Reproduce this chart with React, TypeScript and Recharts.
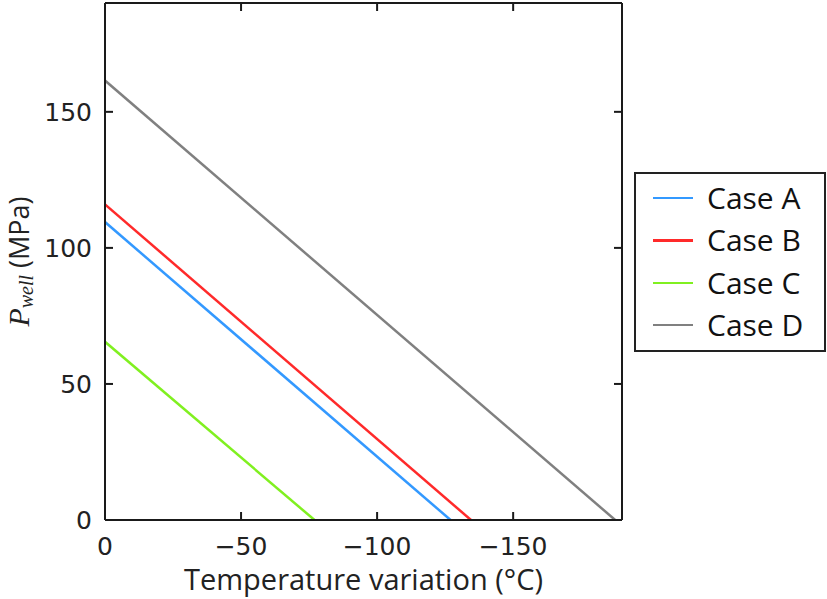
import React from 'react';
import { LineChart, Line, XAxis, YAxis } from 'recharts';

// reference values (x = temperature variation, y = P_well)
const caseNames = ['Case A', 'Case B', 'Case C', 'Case D'];
const caseColors = ['#3399ff', '#ff2a2a', '#80f020', '#808080'];
const caseA = [{ t: 0, p: 109.5 }, { t: -127, p: 0 }];
const caseB = [{ t: 0, p: 116 }, { t: -134.5, p: 0 }];
const caseC = [{ t: 0, p: 65.5 }, { t: -77, p: 0 }];
const caseD = [{ t: 0, p: 161.5 }, { t: -187.5, p: 0 }];
const caseData = [caseA, caseB, caseC, caseD];

const xTicks = [0, -50, -100, -150];
const yTicks = [0, 50, 100, 150];

const FRAME = '#1a1a1a';
const TICK_LEN = 8;
const NUM_FONT = '"DejaVu Sans", sans-serif';
const LABEL_FONT = '"Open Sans", sans-serif';

const fmt = (v: number) => (v < 0 ? '\u2212' + Math.abs(v) : String(v));

const BottomTick = (props: any) => {
  const { x, y, payload } = props;
  const axisY = y - 17;
  return (
    <g>
      <line x1={x} x2={x} y1={axisY} y2={axisY - TICK_LEN} stroke={FRAME} strokeWidth={2} />
      <text x={x} y={y} dy="0.71em" textAnchor="middle" fontFamily={NUM_FONT} fontSize={25} fill="#222">
        {fmt(payload.value)}
      </text>
    </g>
  );
};

const LeftTick = (props: any) => {
  const { x, y, payload } = props;
  const axisX = x + 13;
  return (
    <g>
      <line x1={axisX} x2={axisX + TICK_LEN} y1={y} y2={y} stroke={FRAME} strokeWidth={2} />
      <text x={x} y={y} dy="0.36em" textAnchor="end" fontFamily={NUM_FONT} fontSize={25} fill="#222">
        {fmt(payload.value)}
      </text>
    </g>
  );
};

const TopTick = (props: any) => {
  const { x, payload } = props;
  const y = 3;
  return <line key={payload.value} x1={x} x2={x} y1={y} y2={y + TICK_LEN} stroke={FRAME} strokeWidth={2} />;
};

const RightTick = (props: any) => {
  const { y, payload } = props;
  const x = 622;
  return <line key={payload.value} x1={x} x2={x - TICK_LEN} y1={y} y2={y} stroke={FRAME} strokeWidth={2} />;
};

const XLabel = (props: any) => {
  const vb = props.viewBox || { x: 0, y: 0, width: 0, height: 0 };
  return (
    <text x={vb.x + vb.width / 2} y={vb.y + 70} textAnchor="middle" fontFamily={LABEL_FONT} fontSize={29} fill="#222">
      Temperature variation (°C)
    </text>
  );
};

const YLabel = (props: any) => {
  const vb = props.viewBox || { x: 0, y: 0, width: 0, height: 0 };
  const cx = 23;
  const cy = vb.y + vb.height / 2;
  return (
    <text transform={`translate(${cx},${cy}) rotate(-90)`} textAnchor="middle" dy="0.35em" fill="#222">
      <tspan fontFamily='"Liberation Serif", serif' fontStyle="italic" fontSize={30}>P</tspan>
      <tspan fontFamily='"Liberation Serif", serif' fontStyle="italic" fontSize={20} dy={4}>well</tspan>
      <tspan fontFamily={LABEL_FONT} fontSize={27} dy={-4}> (MPa)</tspan>
    </text>
  );
};

const axisLine = { stroke: FRAME, strokeWidth: 2 };

export default function App() {
  return (
    <div style={{ position: 'absolute', left: 0, top: 0, width: 827, height: 599, background: '#fff' }}>
      <LineChart width={827} height={599} margin={{ top: 2, right: 204, bottom: 0, left: 0 }}>
        <XAxis
          dataKey="t"
          type="number"
          domain={[-190, 0]}
          reversed
          ticks={xTicks}
          tickSize={0}
          tickMargin={17}
          tick={BottomTick}
          axisLine={axisLine}
          height={79}
          allowDataOverflow
          label={XLabel}
        />
        <XAxis
          xAxisId="top"
          dataKey="t"
          type="number"
          orientation="top"
          domain={[-190, 0]}
          reversed
          ticks={xTicks}
          tickSize={0}
          tickMargin={0}
          tick={TopTick}
          axisLine={axisLine}
          height={1}
          allowDataOverflow
        />
        <YAxis
          type="number"
          domain={[0, 190]}
          ticks={yTicks}
          tickSize={0}
          tickMargin={13}
          tick={LeftTick}
          axisLine={axisLine}
          width={105}
          allowDataOverflow
          label={YLabel}
        />
        <YAxis
          yAxisId="right"
          type="number"
          orientation="right"
          domain={[0, 190]}
          ticks={yTicks}
          tickSize={0}
          tickMargin={0}
          tick={RightTick}
          axisLine={axisLine}
          width={1}
          allowDataOverflow
        />
        {caseData.map((d, i) => (
          <Line
            key={caseNames[i]}
            data={d}
            dataKey="p"
            name={caseNames[i]}
            stroke={caseColors[i]}
            strokeWidth={2.5}
            dot={false}
            activeDot={false}
            isAnimationActive={false}
          />
        ))}
        {/* invisible series so the top and right frame axes are bound to data */}
        <Line
          data={caseD}
          dataKey="p"
          xAxisId="top"
          yAxisId="right"
          stroke="none"
          dot={false}
          activeDot={false}
          legendType="none"
          isAnimationActive={false}
        />
      </LineChart>
      <div
        style={{
          position: 'absolute',
          left: 634,
          top: 172,
          width: 188,
          height: 176,
          border: '2px solid #222',
          fontFamily: LABEL_FONT,
          fontSize: 30,
          color: '#111',
          boxSizing: 'content-box',
        }}
      >
        {caseNames.map((name, i) => (
          <div
            key={name}
            style={{ position: 'absolute', left: 0, top: 3 + i * 42.4, height: 42, display: 'flex', alignItems: 'center' }}
          >
            <span style={{ display: 'inline-block', marginLeft: 17, width: 40, height: 2.5, background: caseColors[i] }} />
            <span style={{ marginLeft: 14, lineHeight: '42px' }}>{name}</span>
          </div>
        ))}
      </div>
    </div>
  );
}
